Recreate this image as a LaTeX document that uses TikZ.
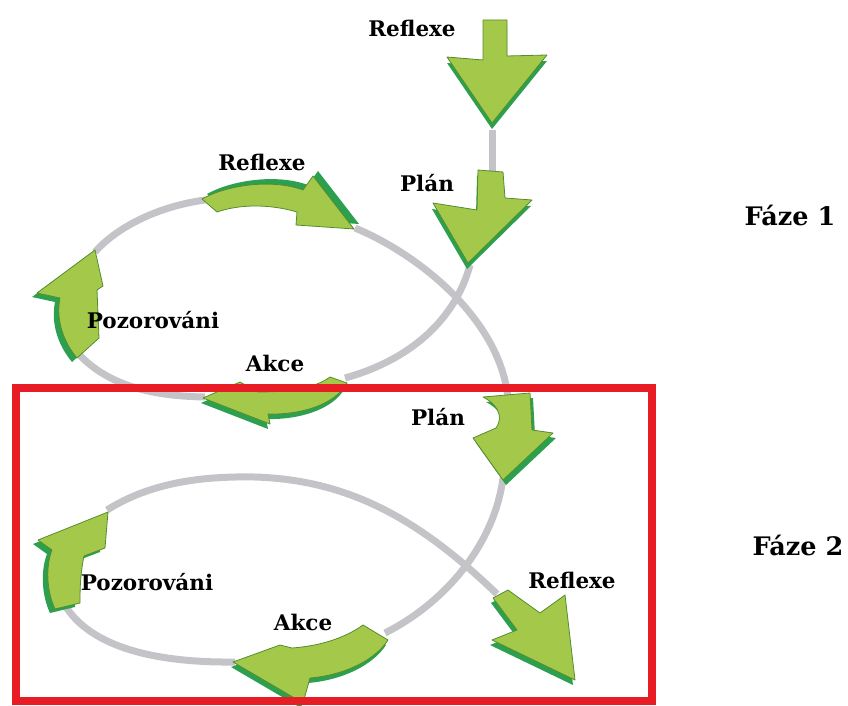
\documentclass[tikz,border=0pt]{standalone}
\usepackage{fontspec}
\setmainfont{DejaVu Serif}
\definecolor{leafgreen}{RGB}{164,201,74}
\definecolor{leafedge}{RGB}{84,140,46}
\definecolor{leafshade}{RGB}{44,160,78}
\definecolor{trackgrey}{RGB}{196,196,200}
\definecolor{framered}{RGB}{232,28,36}
\tikzset{
  leafface/.style={fill=leafgreen, draw=leafedge, line width=0.8pt, line join=round},
  leafside/.style={fill=leafshade},
  track/.style={draw=trackgrey, line width=7pt},
  frame/.style={draw=framered, line width=8pt},
  lbl/.style={font=\bfseries\fontsize{21.5}{25}\selectfont, inner sep=0pt},
  phase/.style={font=\bfseries\fontsize{25.5}{30}\selectfont, inner sep=0pt},
}
% green arrow with a shaded side
\newcommand{\leafarrow}[2]{%
  \fill[leafside, shift={#1}] #2;
  \filldraw[leafface] #2;}

\begin{document}
\begin{tikzpicture}[x=1pt, y=-1pt]
    \useasboundingbox (0,0) rectangle (848,706);

    % track points
    \coordinate (stubTop) at (492,130);
    \coordinate (stubBot) at (492,172);
    \coordinate (planTipA) at (470,265);
    \coordinate (akceEndA) at (345,378);
    \coordinate (reflTipA) at (355,228);
    \coordinate (planTopB) at (508,398);
    \coordinate (reflLeftA) at (205,200);
    \coordinate (pozTipA) at (95,252);
    \coordinate (pozBotA) at (75,350);
    \coordinate (akceTipA) at (205,397);
    \coordinate (planTipB) at (503,478);
    \coordinate (akceEndB) at (385,633);
    \coordinate (pozTipB) at (107,510);
    \coordinate (topB) at (255,477);
    \coordinate (reflTopB) at (497,594);
    \coordinate (pozBotB) at (62,600);
    \coordinate (akceTipB) at (235,662);

    % Draw grey tracks, phase 1
    \draw[track] (stubTop) -- (stubBot);
    \draw[track] (planTipA) .. controls (455,320) and (410,360) .. (akceEndA);
    \draw[track] (reflTipA) .. controls (420,255) and (500,320) .. (planTopB);
    \draw[track] (reflLeftA) .. controls (160,206) and (118,226) .. (pozTipA);
    \draw[track] (pozBotA) .. controls (105,385) and (150,396) .. (akceTipA);

    % Draw grey tracks, phase 2
    \draw[track] (planTipB) .. controls (495,540) and (450,600) .. (akceEndB);
    \draw[track] (pozTipB) .. controls (150,483) and (200,476) .. (topB)
        .. controls (350,480) and (420,520) .. (reflTopB);
    \draw[track] (pozBotB) .. controls (85,645) and (150,663) .. (akceTipB);

    % Arrows, phase 1
    \leafarrow{(0,6)}{(483,20) -- (507,20) -- (507,56) -- (547,55) -- (492,123) -- (447,57) -- (483,60) -- cycle}
    \leafarrow{(-1,6)}{(478,170) -- (503,172) -- (505,198) -- (532,200) -- (468,263) -- (433,203) -- (477,210) -- cycle}
    \leafarrow{(5,-5)}{(202,199) .. controls (225,186) and (270,178) .. (303,190) -- (313,176) -- (354,229) -- (296,225) -- (297,212) .. controls (270,204) and (240,204) .. (217,212) -- cycle}
    \leafarrow{(-5,4)}{(95,250) -- (103,286) -- (97,290) -- (99,338) -- (77,358) .. controls (62,340) and (56,318) .. (60,298) -- (37,293) -- cycle}
    \leafarrow{(-2,5)}{(203,398) -- (240,382) -- (258,392) .. controls (290,392) and (315,388) .. (330,377) -- (347,383) .. controls (335,405) and (300,415) .. (268,414) -- (270,424) -- cycle}

    % Arrows, phase 2
    \leafarrow{(3,5)}{(483,397) -- (530,393) -- (532,430) -- (553,433) -- (503,480) -- (473,438) -- (496,428) .. controls (505,415) and (495,403) .. (483,397) -- cycle}
    \leafarrow{(-5,4)}{(108,512) -- (105,548) -- (84,556) .. controls (80,575) and (80,592) .. (80,603) -- (55,609) .. controls (46,590) and (46,565) .. (52,550) -- (38,540) -- cycle}
    \leafarrow{(-2,5)}{(233,662) -- (280,645) -- (292,648) .. controls (320,646) and (345,638) .. (363,625) -- (388,640) .. controls (375,660) and (345,675) .. (310,678) -- (303,703) -- cycle}
    \leafarrow{(-2,5)}{(493,598) -- (508,590) -- (540,613) -- (565,595) -- (575,680) -- (492,640) -- (517,630) -- cycle}

    % Labels
    \node[lbl] (reflexeTop) at (412,28) {Reflexe};
    \node[lbl] (planA) at (427,183) {Plán};
    \node[lbl] (reflexeA) at (262,162) {Reflexe};
    \node[lbl] (pozorA) at (153,320) {Pozorováni};
    \node[lbl] (akceA) at (275,363) {Akce};
    \node[phase] (fazeA) at (790,215) {Fáze 1};
    \node[lbl] (planB) at (438,417) {Plán};
    \node[lbl] (reflexeB) at (572,580) {Reflexe};
    \node[lbl] (pozorB) at (147,582) {Pozorováni};
    \node[lbl] (akceB) at (303,622) {Akce};
    \node[phase] (fazeB) at (798,545) {Fáze 2};

    % Phase 2 frame
    \draw[frame] (16,388) rectangle (652,701);
\end{tikzpicture}
\end{document}
